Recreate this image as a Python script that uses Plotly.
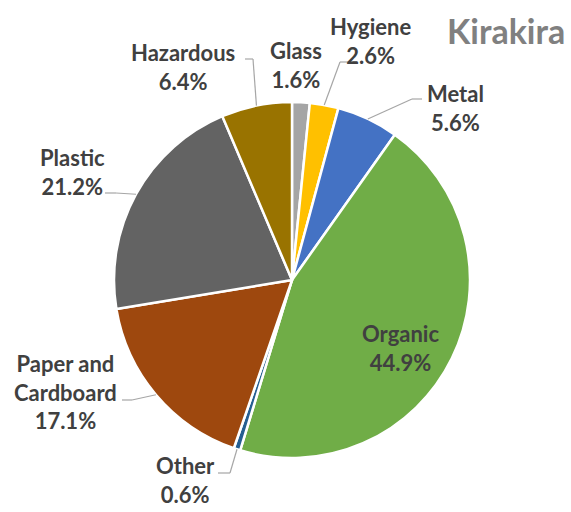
import math
import plotly.graph_objects as go

# Waste composition, Kirakira
categories = ["Glass", "Hygiene", "Metal", "Organic", "Other",
              "Paper and Cardboard", "Plastic", "Hazardous"]
shares = [1.6, 2.6, 5.6, 44.9, 0.6, 17.1, 21.2, 6.4]
colors = ["#A5A5A5", "#FFC000", "#4472C4", "#70AD47", "#255E91",
          "#9E480E", "#636363", "#997300"]
label_text = ["Glass", "Hygiene", "Metal", "Organic", "Other",
              "Paper and<br>Cardboard", "Plastic", "Hazardous"]

W, H = 571, 512
CX, CY, R = 292, 280, 178  # pie centre and radius in pixels

# label box centres (pixels) and leader-line routes (elbow, end) per category
label_pos = {
    "Glass": (296, 65), "Hygiene": (370, 41), "Metal": (456, 108),
    "Organic": (400, 348), "Other": (185, 480),
    "Paper and Cardboard": (65, 392), "Plastic": (72, 172),
    "Hazardous": (183, 67),
}
leaders = {
    "Hygiene": [(340, 62), (350, 62)],
    "Metal": [(412, 99), (422, 99)],
    "Other": [(230, 473), (218, 473)],
    "Paper and Cardboard": [(132, 400), (122, 400)],
    "Plastic": [(116, 193), (105, 193)],
    "Hazardous": [(253, 59), (245, 59)],
}


def px(x):
    return x / W


def py(y):
    return 1 - y / H


fig = go.Figure(go.Pie(
    labels=categories,
    values=shares,
    sort=False,
    direction="clockwise",
    rotation=0,
    marker=dict(colors=colors, line=dict(color="white", width=2.5)),
    textinfo="none",
    hoverinfo="label+percent",
    showlegend=False,
    domain=dict(x=[px(CX - R), px(CX + R)], y=[py(CY + R), py(CY - R)]),
))

font_lbl = dict(family="Lato, 'Open Sans', sans-serif", size=22, color="#404040")
annotations = []
shapes = []
total = sum(shares)
cum = 0.0
for cat, val, txt in zip(categories, shares, label_text):
    mid = (cum + val / 2) / total * 2 * math.pi
    cum += val
    lx, ly = label_pos[cat]
    annotations.append(dict(
        x=px(lx), y=py(ly), xref="paper", yref="paper",
        text=f"<b>{txt}<br>{val:.1f}%</b>", showarrow=False,
        font=font_lbl, align="center", xanchor="center", yanchor="middle",
    ))
    if cat in leaders:
        ex = CX + R * math.sin(mid)
        ey = CY - R * math.cos(mid)
        pts = [(ex, ey)] + leaders[cat]
        for (x0, y0), (x1, y1) in zip(pts[:-1], pts[1:]):
            shapes.append(dict(
                type="line", xref="paper", yref="paper",
                x0=px(x0), y0=py(y0), x1=px(x1), y1=py(y1),
                line=dict(color="#A6A6A6", width=1.2),
            ))

annotations.append(dict(
    x=px(567), y=py(30), xref="paper", yref="paper",
    text="<b>Kirakira</b>", showarrow=False,
    font=dict(family="Lato, 'Open Sans', sans-serif", size=34, color="#808080"),
    xanchor="right", yanchor="middle",
))

fig.update_layout(
    width=W, height=H,
    margin=dict(l=0, r=0, t=0, b=0),
    paper_bgcolor="white", plot_bgcolor="white",
    annotations=annotations, shapes=shapes,
)

fig.write_html("out.html")
